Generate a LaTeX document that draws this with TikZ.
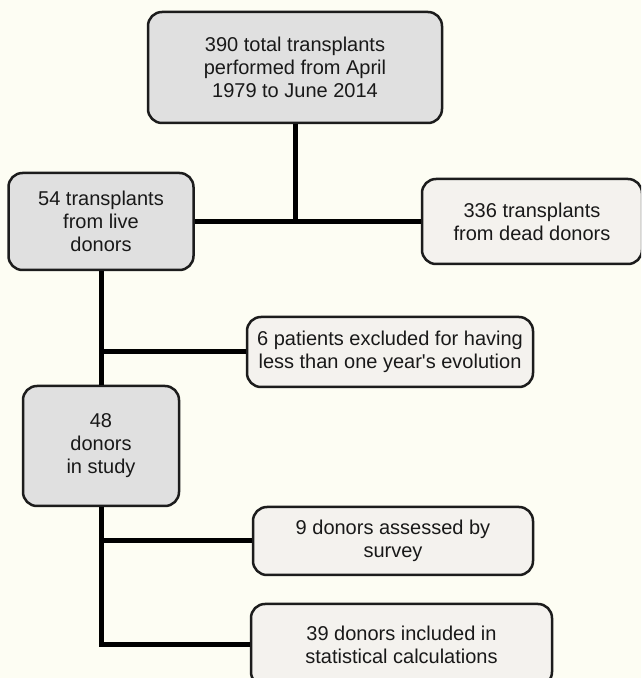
\documentclass[tikz,border=0pt]{standalone}
\usepackage{fontspec}
\setmainfont{Liberation Sans}
\usepackage{xcolor}
\usepackage{tikz}
\definecolor{paperColor}{HTML}{FDFDF3}
\definecolor{mainFill}{HTML}{E0E0E0}
\definecolor{sideFill}{HTML}{F4F2EE}
\definecolor{strokeColor}{HTML}{1C1C1C}
\colorlet{textColor}{black!90}
\colorlet{linkColor}{black}

\tikzset{
  flowbox/.style={
    draw=strokeColor, line width=2.5pt, rounded corners=14pt,
    inner sep=0pt, align=center, text=textColor,
    font=\fontsize{20}{23}\selectfont,
  },
  mainbox/.style={flowbox, fill=mainFill},
  sidebox/.style={flowbox, fill=sideFill},
  link/.style={draw=linkColor, line width=5pt},
}

\begin{document}
\begin{tikzpicture}[x=1pt, y=1pt]
    \useasboundingbox (0, 0) rectangle (641, 678);
    \fill[paperColor] (0, 0) rectangle (641, 678);
    \clip (0, 0) rectangle (641, 678);

    % boxes
    \node[mainbox, minimum width=294pt, minimum height=111pt] (total) at (295, 610.5)
      {390 total transplants\\performed from April\\1979 to June 2014};
    \node[mainbox, minimum width=185pt, minimum height=97pt] (live) at (101, 456.5)
      {54 transplants\\from live\\donors};
    \node[sidebox, minimum width=220pt, minimum height=85pt] (dead) at (532, 456.5)
      {336 transplants\\from dead donors};
    \node[sidebox, minimum width=286pt, minimum height=70pt] (excluded) at (390, 326)
      {6 patients excluded for having\\less than one year\textquotesingle s evolution};
    \node[mainbox, minimum width=156pt, minimum height=120pt] (study) at (101, 232)
      {48\\donors\\in study};
    \node[sidebox, minimum width=280pt, minimum height=68pt] (survey) at (393, 137)
      {9 donors assessed by\\survey};
    \node[sidebox, minimum width=301pt, minimum height=82pt] (calc) at (401.5, 33)
      {39 donors included in\\statistical calculations};

    % connectors
    \draw[link] (live.east) -- (dead.west);
    \draw[link] (total.south) -- (total.south |- live.east);
    \draw[link] (live.south) -- (study.north);
    \draw[link] (excluded.west) -- (excluded.west -| live.south);
    \draw[link] (study.south) |- (calc.west);
    \draw[link] (survey.west) -- (survey.west -| study.south);
\end{tikzpicture}
\end{document}
